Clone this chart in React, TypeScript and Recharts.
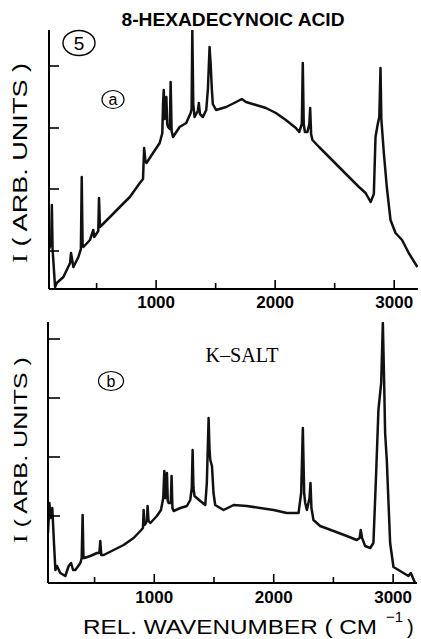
import React from 'react';
import { LineChart, Line, XAxis, YAxis } from 'recharts';

// panel (a): 8-hexadecynoic acid
const waveA = [
  100, 118, 124, 130, 151, 165, 221, 277, 285, 305, 347, 368, 375, 382, 389, 444, 472, 480, 514, 520,
  528, 612, 695, 779, 863, 890, 899, 910, 919, 974, 1030, 1052, 1058, 1064, 1072, 1080, 1086, 1093, 1100, 1115,
  1122, 1130, 1142, 1197, 1253, 1290, 1298, 1304, 1312, 1323, 1350, 1359, 1368, 1393, 1421, 1435, 1449, 1458, 1468, 1476,
  1504, 1588, 1672, 1720, 1755, 1839, 1923, 2006, 2090, 2174, 2202, 2224, 2232, 2240, 2250, 2271, 2287, 2294, 2302, 2313,
  2369, 2453, 2536, 2620, 2704, 2760, 2802, 2829, 2843, 2862, 2875, 2885, 2892, 2913, 2938, 2969, 3011, 3066, 3122, 3195,
];
const intensityA = [
  40, 45, 84, 40, 2, 6, 12, 26, 36, 22, 32, 40, 112, 45, 42, 49, 59, 52, 58, 91,
  62, 72, 82, 92, 106, 110, 141, 128, 126, 136, 146, 156, 185, 199, 170, 185, 192, 165, 162, 160,
  207, 158, 152, 162, 166, 176, 180, 259, 185, 172, 178, 186, 175, 172, 179, 200, 242, 225, 200, 185,
  179, 182, 187, 190, 187, 184, 181, 176, 169, 161, 157, 165, 226, 165, 157, 157, 165, 181, 155, 149,
  142, 132, 122, 112, 102, 96, 87, 95, 152, 165, 172, 221, 170, 136, 102, 69, 56, 49, 36, 22,
];

// panel (b): K-salt
const waveB = [
  110, 122, 132, 146, 160, 172, 185, 213, 255, 283, 303, 320, 339, 381, 392, 400, 407, 414, 464, 520,
  540, 548, 556, 576, 660, 743, 827, 883, 905, 911, 918, 930, 938, 944, 952, 967, 1022, 1056, 1075, 1084,
  1092, 1099, 1106, 1113, 1120, 1138, 1145, 1152, 1162, 1218, 1273, 1301, 1314, 1321, 1328, 1337, 1385, 1427, 1440, 1455,
  1462, 1469, 1483, 1496, 1510, 1580, 1664, 1775, 1887, 1999, 2110, 2208, 2230, 2244, 2255, 2264, 2278, 2300, 2308, 2316,
  2333, 2389, 2501, 2612, 2696, 2720, 2729, 2740, 2766, 2808, 2835, 2858, 2877, 2900, 2914, 2925, 2933, 2947, 2975, 3003,
  3059, 3128, 3148, 3184,
];
const intensityB = [
  50, 80, 65, 75, 40, 13, 17, 10, 7, 17, 20, 13, 13, 20, 25, 68, 25, 25, 27, 30,
  30, 42, 28, 28, 33, 38, 45, 52, 55, 73, 58, 60, 62, 77, 62, 60, 67, 73, 85, 112,
  85, 85, 110, 82, 80, 80, 107, 75, 72, 75, 77, 83, 95, 133, 95, 87, 82, 78, 100, 165,
  135, 123, 117, 90, 78, 73, 78, 77, 75, 73, 70, 70, 90, 155, 90, 80, 73, 85, 100, 75,
  63, 57, 52, 47, 43, 45, 53, 45, 37, 35, 40, 110, 173, 200, 260, 200, 150, 123, 40, 16,
  12, 7, 10, 0,
];

const xTicks = [500, 1000, 1500, 2000, 2500, 3000];
const yTicksA = [38, 100, 161, 223];
const yTicksB = [67, 126, 185, 244];

const dataA = waveA.map((x, i) => ({ x, y: intensityA[i] }));
const dataB = waveB.map((x, i) => ({ x, y: intensityB[i] }));

const SANS = "'Liberation Sans', Arial, sans-serif";
const SERIF = "'Liberation Serif', 'Times New Roman', serif";

const XTick = (props: any) => {
  const { x, y, payload, dy } = props;
  const major = payload.value % 1000 === 0;
  return (
    <g>
      <line x1={x} x2={x} y1={y} y2={y - (major ? 9 : 6)} stroke="#000" strokeWidth={1.6} />
      {major && (
        <text x={x} y={y + dy} textAnchor="middle" fontFamily={SANS} fontWeight="bold" fontSize={17} fill="#000">
          {payload.value}
        </text>
      )}
    </g>
  );
};

const YTick = (props: any) => {
  const { x, y, len } = props;
  return <line x1={x} x2={x + len} y1={y} y2={y} stroke="#000" strokeWidth={1.6} />;
};

const Panel = ({ data, domainX, domainY, yTicks, margin, height, dy, tickLen }: any) => (
  <LineChart width={421} height={height} data={data} margin={margin}>
    <XAxis
      type="number"
      dataKey="x"
      domain={domainX}
      ticks={xTicks}
      interval={0}
      allowDataOverflow
      height={30}
      tickSize={0}
      tickMargin={0}
      axisLine={{ stroke: '#000', strokeWidth: 2 }}
      tick={(p: any) => <XTick {...p} dy={dy} />}
    />
    <YAxis
      type="number"
      domain={domainY}
      ticks={yTicks}
      interval={0}
      allowDataOverflow
      width={10}
      tickSize={0}
      tickMargin={0}
      axisLine={{ stroke: '#000', strokeWidth: 2 }}
      tick={(p: any) => <YTick {...p} len={tickLen} />}
    />
    <Line
      type="linear"
      dataKey="y"
      stroke="#111"
      strokeWidth={2.5}
      dot={false}
      isAnimationActive={false}
      strokeLinejoin="round"
    />
  </LineChart>
);

export default function App() {
  return (
    <div style={{ position: 'absolute', left: 0, top: 0, width: 421, height: 639, background: '#fff' }}>
      <div style={{ position: 'absolute', left: 0, top: 0 }}>
        <Panel
          data={dataA}
          domainX={[100, 3200]}
          domainY={[0, 259]}
          yTicks={yTicksA}
          margin={{ top: 30, right: 3, left: 39, bottom: 0 }}
          height={319}
          dy={19}
          tickLen={10}
        />
      </div>
      <div style={{ position: 'absolute', left: 0, top: 310 }}>
        <Panel
          data={dataB}
          domainX={[110, 3200]}
          domainY={[0, 261]}
          yTicks={yTicksB}
          margin={{ top: 12, right: 4, left: 38, bottom: 0 }}
          height={303}
          dy={20}
          tickLen={12}
        />
      </div>
      <svg
        width={421}
        height={639}
        style={{ position: 'absolute', left: 0, top: 0, pointerEvents: 'none' }}
      >
        <text x={233} y={26} textAnchor="middle" fontFamily={SANS} fontWeight="bold" fontSize={18}
          textLength={223} lengthAdjust="spacingAndGlyphs">8-HEXADECYNOIC ACID</text>

        <ellipse cx={79} cy={43} rx={16} ry={12.5} fill="none" stroke="#000" strokeWidth={1.4} />
        <text x={79} y={50} textAnchor="middle" fontFamily={SANS} fontSize={19}>5</text>

        <ellipse cx={113} cy={99.5} rx={11} ry={9} fill="none" stroke="#000" strokeWidth={1.2} />
        <text x={113} y={105} textAnchor="middle" fontFamily={SANS} fontSize={16}>a</text>

        <ellipse cx={111} cy={381} rx={12.5} ry={9.5} fill="none" stroke="#000" strokeWidth={1.2} />
        <text x={111} y={387} textAnchor="middle" fontFamily={SANS} fontSize={16}>b</text>

        <text x={242} y={362} textAnchor="middle" fontFamily={SERIF} fontSize={20}
          textLength={73} lengthAdjust="spacingAndGlyphs">K–SALT</text>

        <text transform="translate(27,163) rotate(-90)" textAnchor="middle" fontFamily={SANS} fontSize={20}
          textLength={200} lengthAdjust="spacingAndGlyphs">
          <tspan fontFamily={SERIF}>I</tspan> ( ARB. UNITS )
        </text>
        <text transform="translate(27,450) rotate(-90)" textAnchor="middle" fontFamily={SANS} fontSize={19}
          textLength={186} lengthAdjust="spacingAndGlyphs">
          <tspan fontFamily={SERIF}>I</tspan> ( ARB. UNITS )
        </text>

        <text x={83} y={634} fontFamily={SANS} fontSize={20}
          textLength={294} lengthAdjust="spacingAndGlyphs">REL. WAVENUMBER ( CM</text>
        <text x={386} y={622} fontFamily={SANS} fontSize={15}>−1</text>
        <text x={407} y={634} fontFamily={SANS} fontSize={20}>)</text>
      </svg>
    </div>
  );
}
